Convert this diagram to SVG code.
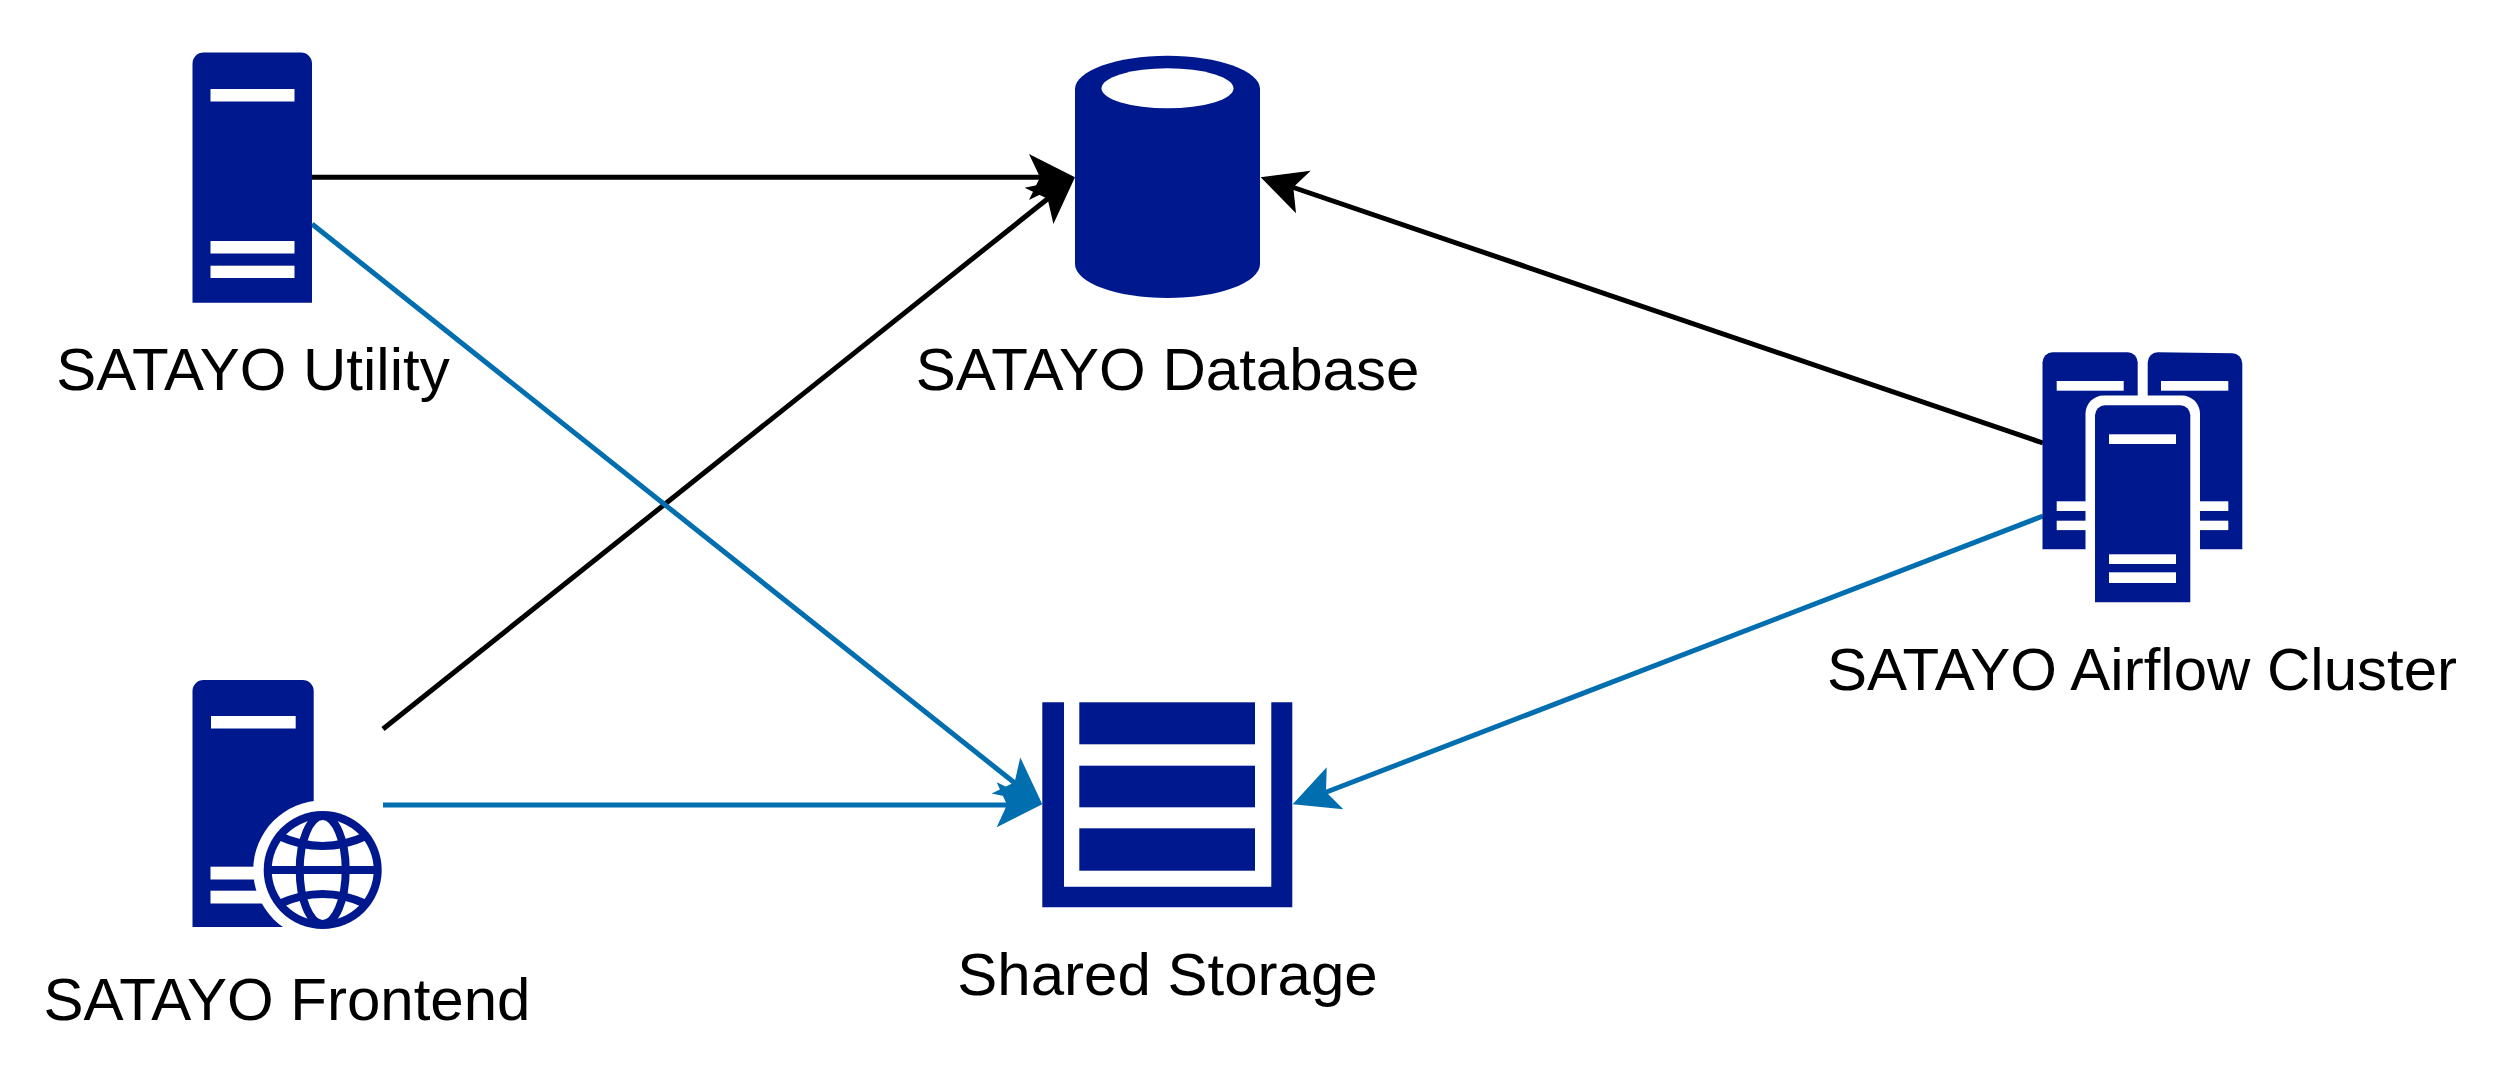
<svg xmlns="http://www.w3.org/2000/svg" width="2500" height="1085" viewBox="0 0 2500 1085">
<style>
.n{fill:#00188d}.w{fill:#fff}
.l{font-family:"Liberation Sans",Arial,sans-serif;font-size:60px;fill:#000;text-anchor:middle}
.c{fill:none;stroke-width:5}.k{stroke:#000}.b{stroke:#006eaf}
.ka{fill:#000}.ba{fill:#006eaf}
</style>
<rect width="2500" height="1085" fill="#fff"/>
<g id="connectors">
<path class="c k" d="M312 177.300H1042"/>
<path class="c k" d="M383 729L1048 198.500"/>
<path class="c k" d="M2043 443L1292 187"/>
<path class="c b" d="M312 224L1016 784"/>
<path class="c b" d="M383 805H1008"/>
<path class="c b" d="M2043 516L1324 793"/>
<path class="ka" d="M1075 177.300L1029 154L1040 177.300L1029 200Z"/>
<path class="ka" d="M1075 177.300L1053.400 224L1047.600 198.800L1024.600 187.700Z"/>
<path class="ka" d="M1260.700 177.300L1310.700 170.700L1293.300 187.300L1296 213.300Z"/>
<path class="ba" d="M1042.300 804.300L996.700 827.300L1007 804.800L996.700 782.300Z"/>
<path class="ba" d="M1042.300 804.300L1020.300 757.400L1014.600 782.200L991.700 793.400Z"/>
<path class="ba" d="M1292.700 804.300L1343.300 809.300L1326 792L1326.700 767.300Z"/>
</g>
<g id="utility">
<path class="n" d="M192.500 302.700V63.500a11 11 0 0 1 11-11H301a11 11 0 0 1 11 11V302.700Z"/>
<rect class="w" x="210.500" y="89" width="84" height="12.500"/>
<rect class="w" x="210.500" y="241" width="84" height="12.500"/>
<rect class="w" x="210.500" y="265.700" width="84" height="12.300"/>
<text class="l" x="253" y="390">SATAYO Utility</text>
</g>
<g id="database">
<path class="n" d="M1075 89C1075 70.700 1116.600 55.700 1167.500 55.700S1260 70.700 1260 89V264C1260 282.800 1218.400 298 1167.500 298S1075 282.800 1075 264Z"/>
<ellipse class="w" cx="1167.500" cy="88.300" rx="66" ry="20"/>
<text class="l" x="1167.500" y="390">SATAYO Database</text>
</g>
<g id="frontend">
<path class="n" d="M192.500 927V691a11 11 0 0 1 11-11H302.700a11 11 0 0 1 11 11V927Z"/>
<rect class="w" x="211" y="716" width="84.700" height="12.500"/>
<rect class="w" x="210.500" y="866.700" width="50" height="12.800"/>
<rect class="w" x="210.500" y="890.700" width="60" height="12.800"/>
<circle class="w" cx="322.700" cy="870" r="69.500"/>
<circle class="n" cx="322.700" cy="870" r="59"/>
<circle class="w" cx="322.700" cy="870" r="51"/>
<g fill="none" stroke="#00188d" stroke-width="8">
<ellipse cx="322.700" cy="870" rx="23" ry="54"/>
<path d="M268 870H378"/>
<path d="M279 836Q322.700 856 366 836"/>
<path d="M279 904Q322.700 884 366 904"/>
</g>
<text class="l" x="287" y="1020">SATAYO Frontend</text>
</g>
<g id="storage">
<path class="n" d="M1042.300 702.300H1064V886.700H1271.300V702.300H1292.300V907.300H1042.300Z"/>
<rect class="n" x="1079.300" y="702.300" width="175.700" height="42"/>
<rect class="n" x="1079.300" y="765.700" width="175.700" height="41.600"/>
<rect class="n" x="1079.300" y="828.300" width="175.700" height="42.400"/>
<text class="l" x="1167.500" y="995">Shared Storage</text>
</g>
<g id="airflow">
<path class="n" d="M2042.500 549.300V362.300a10 10 0 0 1 10-10H2127.700a10 10 0 0 1 10 10V549.300Z"/>
<path class="n" d="M2147.700 549.300V362.300a10 10 0 0 1 10-10L2232.300 353.300a10 10 0 0 1 10 10V549.300Z"/>
<rect class="w" x="2056.700" y="381" width="67" height="9.700"/>
<rect class="w" x="2056.700" y="501.300" width="67" height="9.700"/>
<rect class="w" x="2056.700" y="520.700" width="67" height="9.400"/>
<rect class="w" x="2161" y="381" width="67.300" height="9.700"/>
<rect class="w" x="2161" y="501.300" width="67.300" height="9.700"/>
<rect class="w" x="2161" y="520.700" width="67.300" height="9.400"/>
<path class="w" d="M2085.500 620V413.600a18 18 0 0 1 18-18H2182a18 18 0 0 1 18 18V620Z"/>
<path class="n" d="M2095 602.300V415.300a10 10 0 0 1 10-10H2180.300a10 10 0 0 1 10 10V602.300Z"/>
<rect class="w" x="2109" y="434.300" width="67" height="9.700"/>
<rect class="w" x="2109" y="554.300" width="67" height="9.700"/>
<rect class="w" x="2109" y="572.300" width="67" height="10.700"/>
<text class="l" x="2142" y="690">SATAYO Airflow Cluster</text>
</g>
</svg>
